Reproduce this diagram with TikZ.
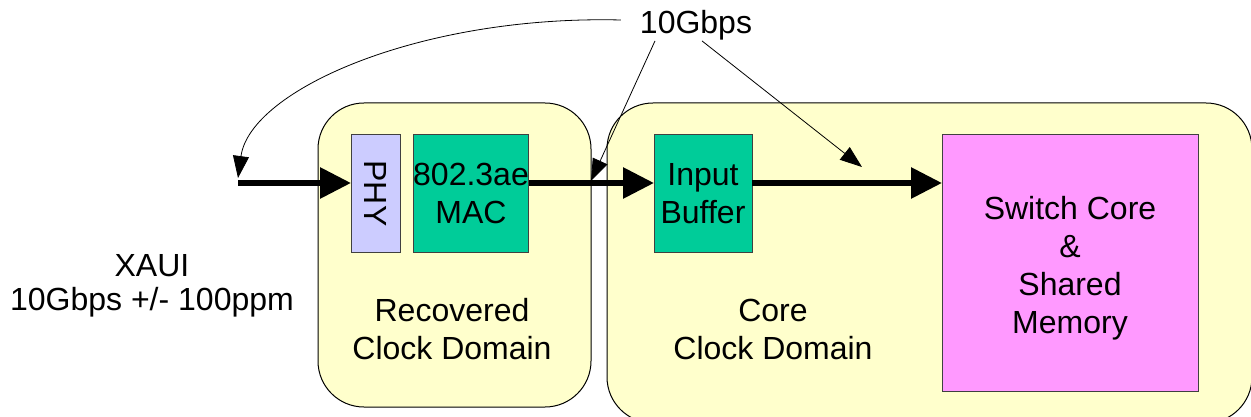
\documentclass[tikz,border=0pt]{standalone}
\usepackage{fontspec}
\setmainfont{Liberation Sans}
\usetikzlibrary{arrows.meta,calc}
\definecolor{domainfill}{HTML}{FFFFCC}
\definecolor{phyfill}{HTML}{CCCCFF}
\definecolor{macfill}{HTML}{00CC99}
\definecolor{corefill}{HTML}{FF99FF}
\begin{document}
\begin{tikzpicture}[x=1pt,y=-1pt,
  every node/.style={font=\fontsize{32}{38}\selectfont, inner sep=0pt, outer sep=0pt},
  clkdomain/.style={draw=black, line width=1pt, fill=domainfill, rounded corners=46pt},
  block/.style={draw=black!75, line width=1pt},
  txt/.style={align=center},
  busarrow/.style={line width=6pt, -{Triangle[length=31pt,width=30pt]}},
  notearrow/.style={line width=0.8pt, -{Triangle[length=22pt,width=16pt]}}]

% canvas
\path[use as bounding box, clip] (0,0) rectangle (1251,417);
\fill[white] (0,0) rectangle (1251,417);

% clock domains
\node[clkdomain, minimum width=273pt, minimum height=304pt] (rec) at (454.5,255) {};
\node[clkdomain, minimum width=645pt, minimum height=320pt] (core) at (929.5,263) {};

% functional blocks
\node[block, fill=phyfill, rotate=-90, minimum width=117pt, minimum height=49pt] (phy) at (375.5,193.5) {PHY};
\node[block, fill=macfill, txt, minimum width=112pt, minimum height=117pt] (mac) at (471,193.5) {802.3ae\\MAC};
\node[block, fill=macfill, txt, minimum width=98pt, minimum height=117pt] (inb) at (703,193.5) {Input\\Buffer};
\node[block, fill=corefill, txt, minimum width=256pt, minimum height=256pt] (sw) at (1070,263)
  {\rule{0pt}{33pt}Switch Core\\\&\\Shared\\Memory};

% labels
\node[txt] (reclbl) at (452,329) {Recovered\\Clock Domain};
\node[txt] (corelbl) at (773,329) {Core\\Clock Domain};
\node[txt, font=\fontsize{32}{34}\selectfont] (xaui) at (152,286) {XAUI\\10Gbps +/- 100ppm};
\node (rate) at (696,25) {10Gbps};

% data path
\coordinate (xin) at (238,183);
\draw[busarrow] (xin) -- (xin -| phy.south);
\draw[busarrow] (mac.east |- xin) -- (inb.west |- xin);
\draw[busarrow] (inb.east |- xin) -- (sw.west |- xin);

% rate annotations
\coordinate (tipA) at (238,178);
\coordinate (tipB) at (591,181);
\coordinate (tipC) at (862,167);
\draw[notearrow] ($(rate.west)+(-19,-5)$) .. controls (420,15) and (250,90) .. (tipA);
\draw[notearrow] ($(rate.south)+(-41,1)$) -- (tipB);
\draw[notearrow] ($(rate.south)+(6,1)$) -- (tipC);
\end{tikzpicture}
\end{document}
